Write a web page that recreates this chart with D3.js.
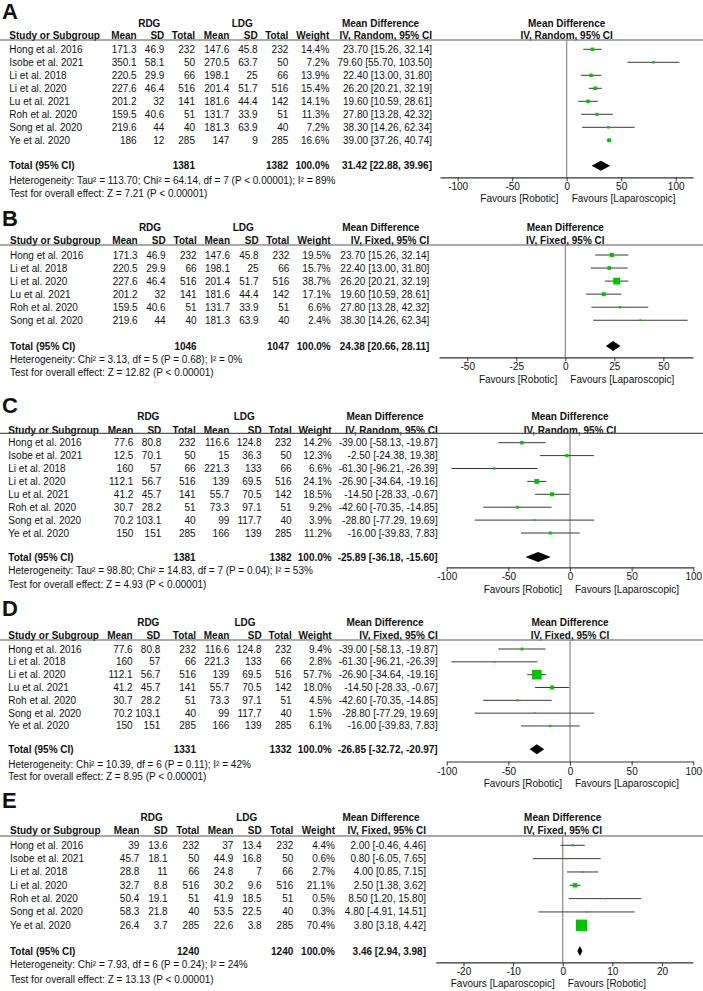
<!DOCTYPE html>
<html><head><meta charset="utf-8">
<script src="https://cdn.jsdelivr.net/npm/d3@7"></script>
<style>body{margin:0;background:#fff}svg{display:block;font-family:"Liberation Sans",Arial,sans-serif}</style>
</head><body><svg id="c" width="703" height="991"></svg>
<script>
// ---------- Panel A (IV, Random) ----------
const studiesA = ["Hong et al. 2016","Isobe et al. 2021","Li et al. 2018","Li et al. 2020","Lu et al. 2021","Roh et al. 2020","Song et al. 2020","Ye et al. 2020"];
const rdgMeanA = [171.3,350.1,220.5,227.6,201.2,159.5,219.6,186];
const rdgSdA   = [46.9,58.1,29.9,46.4,32,40.6,44,12];
const rdgNA    = [232,50,66,516,141,51,40,285];
const ldgMeanA = [147.6,270.5,198.1,201.4,181.6,131.7,181.3,147];
const ldgSdA   = [45.8,63.7,25,51.7,44.4,33.9,63.9,9];
const ldgNA    = [232,50,66,516,142,51,40,285];
const weightA  = [14.4,7.2,13.9,15.4,14.1,11.3,7.2,16.6];
const mdA = [23.70,79.60,22.40,26.20,19.60,27.80,38.30,39.00];
const loA = [15.26,55.70,13.00,20.21,10.59,13.28,14.26,37.26];
const hiA = [32.14,103.50,31.80,32.19,28.61,42.32,62.34,40.74];
const totalA = [1381,1382,31.42,22.88,39.96];
const hetA = "Heterogeneity: Tau² = 113.70; Chi² = 64.14, df = 7 (P < 0.00001); I² = 89%";
const testA = "Test for overall effect: Z = 7.21 (P < 0.00001)";
const ticksA = [-100,-50,0,50,100];
const favoursA = ["Favours [Robotic]","Favours [Laparoscopic]"];

// ---------- Panel B (IV, Fixed) ----------
const studiesB = ["Hong et al. 2016","Li et al. 2018","Li et al. 2020","Lu et al. 2021","Roh et al. 2020","Song et al. 2020"];
const rdgMeanB = [171.3,220.5,227.6,201.2,159.5,219.6];
const rdgSdB   = [46.9,29.9,46.4,32,40.6,44];
const rdgNB    = [232,66,516,141,51,40];
const ldgMeanB = [147.6,198.1,201.4,181.6,131.7,181.3];
const ldgSdB   = [45.8,25,51.7,44.4,33.9,63.9];
const ldgNB    = [232,66,516,142,51,40];
const weightB  = [19.5,15.7,38.7,17.1,6.6,2.4];
const mdB = [23.70,22.40,26.20,19.60,27.80,38.30];
const loB = [15.26,13.00,20.21,10.59,13.28,14.26];
const hiB = [32.14,31.80,32.19,28.61,42.32,62.34];
const totalB = [1046,1047,24.38,20.66,28.11];
const hetB = "Heterogeneity: Chi² = 3.13, df = 5 (P = 0.68); I² = 0%";
const testB = "Test for overall effect: Z = 12.82 (P < 0.00001)";
const ticksB = [-50,-25,0,25,50];
const favoursB = ["Favours [Robotic]","Favours [Laparoscopic]"];

// ---------- Panel C (IV, Random) ----------
const studiesC = ["Hong et al. 2016","Isobe et al. 2021","Li et al. 2018","Li et al. 2020","Lu et al. 2021","Roh et al. 2020","Song et al. 2020","Ye et al. 2020"];
const rdgMeanC = [77.6,12.5,160,112.1,41.2,30.7,70.2,150];
const rdgSdC   = [80.8,70.1,57,56.7,45.7,28.2,103.1,151];
const rdgNC    = [232,50,66,516,141,51,40,285];
const ldgMeanC = [116.6,15,221.3,139,55.7,73.3,99,166];
const ldgSdC   = [124.8,36.3,133,69.5,70.5,97.1,117.7,139];
const ldgNC    = [232,50,66,516,142,51,40,285];
const weightC  = [14.2,12.3,6.6,24.1,18.5,9.2,3.9,11.2];
const mdC = [-39.00,-2.50,-61.30,-26.90,-14.50,-42.60,-28.80,-16.00];
const loC = [-58.13,-24.38,-96.21,-34.64,-28.33,-70.35,-77.29,-39.83];
const hiC = [-19.87,19.38,-26.39,-19.16,-0.67,-14.85,19.69,7.83];
const totalC = [1381,1382,-25.89,-36.18,-15.60];
const hetC = "Heterogeneity: Tau² = 98.80; Chi² = 14.83, df = 7 (P = 0.04); I² = 53%";
const testC = "Test for overall effect: Z = 4.93 (P < 0.00001)";
const ticksC = [-100,-50,0,50,100];
const favoursC = ["Favours [Robotic]","Favours [Laparoscopic]"];

// ---------- Panel D (IV, Fixed) ----------
const studiesD = ["Hong et al. 2016","Li et al. 2018","Li et al. 2020","Lu et al. 2021","Roh et al. 2020","Song et al. 2020","Ye et al. 2020"];
const rdgMeanD = [77.6,160,112.1,41.2,30.7,70.2,150];
const rdgSdD   = [80.8,57,56.7,45.7,28.2,103.1,151];
const rdgND    = [232,66,516,141,51,40,285];
const ldgMeanD = [116.6,221.3,139,55.7,73.3,99,166];
const ldgSdD   = [124.8,133,69.5,70.5,97.1,117.7,139];
const ldgND    = [232,66,516,142,51,40,285];
const weightD  = [9.4,2.8,57.7,18.0,4.5,1.5,6.1];
const mdD = [-39.00,-61.30,-26.90,-14.50,-42.60,-28.80,-16.00];
const loD = [-58.13,-96.21,-34.64,-28.33,-70.35,-77.29,-39.83];
const hiD = [-19.87,-26.39,-19.16,-0.67,-14.85,19.69,7.83];
const totalD = [1331,1332,-26.85,-32.72,-20.97];
const hetD = "Heterogeneity: Chi² = 10.39, df = 6 (P = 0.11); I² = 42%";
const testD = "Test for overall effect: Z = 8.95 (P < 0.00001)";
const ticksD = [-100,-50,0,50,100];
const favoursD = ["Favours [Robotic]","Favours [Laparoscopic]"];

// ---------- Panel E (IV, Fixed) ----------
const studiesE = ["Hong et al. 2016","Isobe et al. 2021","Li et al. 2018","Li et al. 2020","Roh et al. 2020","Song et al. 2020","Ye et al. 2020"];
const rdgMeanE = [39,45.7,28.8,32.7,50.4,58.3,26.4];
const rdgSdE   = [13.6,18.1,11,8.8,19.1,21.8,3.7];
const rdgNE    = [232,50,66,516,51,40,285];
const ldgMeanE = [37,44.9,24.8,30.2,41.9,53.5,22.6];
const ldgSdE   = [13.4,16.8,7,9.6,18.5,22.5,3.8];
const ldgNE    = [232,50,66,516,51,40,285];
const weightE  = [4.4,0.6,2.7,21.1,0.5,0.3,70.4];
const mdE = [2.00,0.80,4.00,2.50,8.50,4.80,3.80];
const loE = [-0.46,-6.05,0.85,1.38,1.20,-4.91,3.18];
const hiE = [4.46,7.65,7.15,3.62,15.80,14.51,4.42];
const totalE = [1240,1240,3.46,2.94,3.98];
const hetE = "Heterogeneity: Chi² = 7.93, df = 6 (P = 0.24); I² = 24%";
const testE = "Test for overall effect: Z = 13.13 (P < 0.00001)";
const ticksE = [-20,-10,0,10,20];
const favoursE = ["Favours [Laparoscopic]","Favours [Robotic]"];

// ---------- panel assembly ----------
const panels = [
  {letter:"A", model:"IV, Random, 95% CI", studies:studiesA, rm:rdgMeanA, rs:rdgSdA, rn:rdgNA, lm:ldgMeanA, ls:ldgSdA, ln:ldgNA, w:weightA, md:mdA, lo:loA, hi:hiA, tot:totalA, het:hetA, test:testA, ticks:ticksA, fav:favoursA,
   L:{letterY:11, h1:23, h2:35, sep:40, row0:49.3, step:13, total:165.7, het:180, test:193, axis:177.3, favY:198.5,
      cols:[136.7,164.3,195,229.3,257.7,288.3,329.3,432], studyX:9.3, rdgX:149.3, ldgX:242.3, mdHdrX:380.5, dom:[-116.2,115.9], rng:[440,693]}},
  {letter:"B", model:"IV, Fixed, 95% CI", studies:studiesB, rm:rdgMeanB, rs:rdgSdB, rn:rdgNB, lm:ldgMeanB, ls:ldgSdB, ln:ldgNB, w:weightB, md:mdB, lo:loB, hi:hiB, tot:totalB, het:hetB, test:testB, ticks:ticksB, fav:favoursB,
   L:{letterY:218, h1:227, h2:240.7, sep:245, row0:255, step:13.05, total:346, het:359.7, test:372.7, axis:357.3, favY:379.3,
      cols:[137.7,165.7,196.7,230,258.7,289.3,330.7,429.3], studyX:10, rdgX:150, ldgX:243.3, mdHdrX:380.8, dom:[-64.4,65.1], rng:[439,693]}},
  {letter:"C", model:"IV, Random, 95% CI", studies:studiesC, rm:rdgMeanC, rs:rdgSdC, rn:rdgNC, lm:ldgMeanC, ls:ldgSdC, ln:ldgNC, w:weightC, md:mdC, lo:loC, hi:hiC, tot:totalC, het:hetC, test:testC, ticks:ticksC, fav:favoursC,
   L:{letterY:405, h1:416.7, h2:430, sep:433.3, row0:442.7, step:12.9, total:557, het:570, test:584, axis:567.3, favY:589,
      cols:[133.3,161.3,195.7,229.3,261.7,291.7,331.7,437.7], studyX:8.3, rdgX:148.3, ldgX:244.3, mdHdrX:385, dom:[-100,100], rng:[446.7,693.3]}},
  {letter:"D", model:"IV, Fixed, 95% CI", studies:studiesD, rm:rdgMeanD, rs:rdgSdD, rn:rdgND, lm:ldgMeanD, ls:ldgSdD, ln:ldgND, w:weightD, md:mdD, lo:loD, hi:hiD, tot:totalD, het:hetD, test:testD, ticks:ticksD, fav:favoursD,
   L:{letterY:608, h1:622.3, h2:635.7, sep:640, row0:649, step:12.83, total:749.3, het:764, test:776.7, axis:761.5, favY:783.3,
      cols:[132.7,160.3,196,229.3,261.7,291.7,331.7,437.7], studyX:8.3, rdgX:148.3, ldgX:245, mdHdrX:385, dom:[-100,100], rng:[446.7,693.3]}},
  {letter:"E", model:"IV, Fixed, 95% CI", studies:studiesE, rm:rdgMeanE, rs:rdgSdE, rn:rdgNE, lm:ldgMeanE, ls:ldgSdE, ln:ldgNE, w:weightE, md:mdE, lo:loE, hi:hiE, tot:totalE, het:hetE, test:testE, ticks:ticksE, fav:favoursE,
   L:{letterY:800, h1:817.3, h2:830.7, sep:836, row0:845.3, step:13.33, total:951, het:964.3, test:979, axis:962.3, favY:983.3,
      cols:[139.3,167.7,199.3,233.3,261.7,293.3,335,426], studyX:10, rdgX:151.7, ldgX:246.7, mdHdrX:381, dom:[-25.6,26.2], rng:[435.7,692.7]}}
];

const svg = d3.select("#c");
const FS = 10;
const boxSide = d3.scaleLinear().domain([0,100]).range([1.5,15.5]);
const f2 = d3.format(".2f");
const fmtCI = (m,l,h) => `${f2(m)} [${f2(l)}, ${f2(h)}]`.replace(/−/g,"-");

function txt(g, x, y, s, anchor, bold, size) {
  return g.append("text").attr("x", x).attr("y", y).attr("dy", "0.35em")
    .attr("text-anchor", anchor || "start")
    .attr("font-size", size || FS)
    .attr("font-weight", bold ? "bold" : "normal")
    .attr("fill", "#111").text(s);
}

panels.forEach(p => {
  const L = p.L, g = svg.append("g");
  const x = d3.scaleLinear().domain(L.dom).range(L.rng);
  const x0 = x(0);
  const c = L.cols;

  txt(g, 2, L.letterY, p.letter, "start", true, 22);

  // headers
  txt(g, L.rdgX, L.h1, "RDG", "middle", true);
  txt(g, L.ldgX, L.h1, "LDG", "middle", true);
  txt(g, L.mdHdrX, L.h1, "Mean Difference", "middle", true);
  txt(g, x0, L.h1, "Mean Difference", "middle", true);
  txt(g, L.studyX, L.h2, "Study or Subgroup", "start", true);
  ["Mean","SD","Total","Mean","SD","Total","Weight"].forEach((h,i) => txt(g, c[i], L.h2, h, "end", true));
  txt(g, c[7], L.h2, p.model, "end", true);
  txt(g, x0, L.h2, p.model, "middle", true);

  g.append("line").attr("x1",0).attr("x2",703).attr("y1",L.sep).attr("y2",L.sep)
    .attr("stroke","#555").attr("stroke-width",1.2);

  // zero line
  g.append("line").attr("x1",x0).attr("x2",x0).attr("y1",L.sep).attr("y2",L.axis)
    .attr("stroke","#8a8a8a").attr("stroke-width",1.2);

  // rows
  p.studies.forEach((s,i) => {
    const y = L.row0 + i*L.step;
    txt(g, L.studyX, y, s);
    [p.rm[i], p.rs[i], p.rn[i], p.lm[i], p.ls[i], p.ln[i]].forEach((v,j) => txt(g, c[j], y, String(v), "end"));
    txt(g, c[6], y, p.w[i].toFixed(1) + "%", "end");
    txt(g, c[7], y, fmtCI(p.md[i], p.lo[i], p.hi[i]), "end");
    g.append("line").attr("x1", x(p.lo[i])).attr("x2", x(p.hi[i])).attr("y1", y).attr("y2", y)
      .attr("stroke","#3a3a3a").attr("stroke-width",1);
    const s2 = boxSide(p.w[i]);
    g.append("rect").attr("x", x(p.md[i]) - s2/2).attr("y", y - s2/2).attr("width", s2).attr("height", s2)
      .attr("fill","#00c400");
  });

  // total
  txt(g, L.studyX, L.total, "Total (95% CI)", "start", true);
  txt(g, c[2], L.total, String(p.tot[0]), "end", true);
  txt(g, c[5], L.total, String(p.tot[1]), "end", true);
  txt(g, c[6], L.total, "100.0%", "end", true);
  txt(g, c[7], L.total, fmtCI(p.tot[2], p.tot[3], p.tot[4]), "end", true);
  const dh = 5;
  g.append("path").attr("d", `M${x(p.tot[3])},${L.total} L${x(p.tot[2])},${L.total-dh} L${x(p.tot[4])},${L.total} L${x(p.tot[2])},${L.total+dh} Z`)
    .attr("fill","#000");

  txt(g, L.studyX, L.het, p.het);
  txt(g, L.studyX, L.test, p.test);

  // axis
  const ax = g.append("g").attr("transform", `translate(0,${L.axis})`)
    .call(d3.axisBottom(x).tickValues(p.ticks).tickSize(4).tickSizeOuter(0).tickPadding(2).tickFormat(d => String(d)));
  ax.select(".domain").attr("stroke","#333").attr("stroke-width",1.2);
  ax.selectAll(".tick line").attr("stroke","#333");
  ax.selectAll(".tick text").attr("font-size", FS).attr("font-family", '"Liberation Sans",Arial,sans-serif').attr("fill","#111");

  txt(g, x0 - 8, L.favY, p.fav[0], "end");
  txt(g, x0 + 5, L.favY, p.fav[1], "start");
});
</script>
</body></html>
